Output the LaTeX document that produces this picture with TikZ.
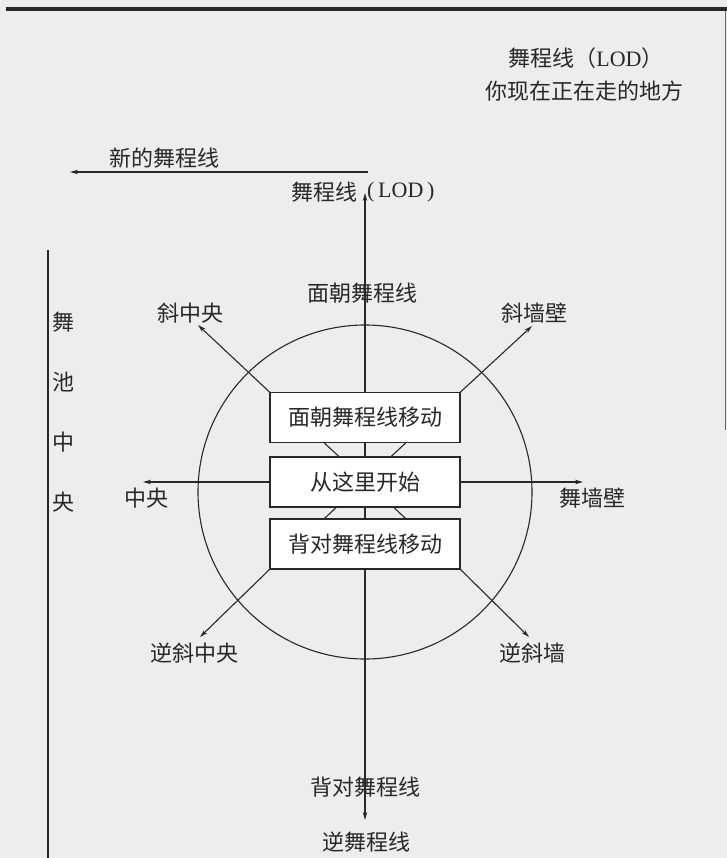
\documentclass[tikz,border=0pt]{standalone}
\usepackage{fontspec}
\newfontfamily\cjk{Noto Sans CJK SC}
\newfontfamily\lat{Liberation Serif}
\usetikzlibrary{arrows.meta}
\definecolor{paper}{RGB}{237,237,237}
\definecolor{ink}{RGB}{40,40,40}
\pgfdeclarelayer{paperlayer}
\pgfdeclarelayer{bg}
\pgfsetlayers{paperlayer,bg,main}
\begin{document}
\begin{tikzpicture}[x=1pt,y=-1pt,
  lbl/.style={font=\cjk\fontsize{22}{26}\selectfont, text=ink, inner sep=0pt},
  box/.style={draw=ink, fill=white, line width=1.1pt, minimum width=190pt,
              minimum height=50pt, inner sep=0pt, font=\cjk\fontsize{22}{26}\selectfont, text=ink},
  conn/.style={draw=ink, line width=1.1pt},
  arr/.style={conn, -{Stealth[length=8pt,width=4.5pt]}},
  ring/.style={draw=ink, line width=1.1pt, circle, minimum size=334pt, inner sep=0pt}]
\begin{pgfonlayer}{paperlayer}
  \fill[paper] (0,0) rectangle (727,858);
\end{pgfonlayer}
\useasboundingbox (0,0) rectangle (727,858);
% frame pieces
\fill[ink] (6,7) rectangle (727,11.5);
\coordinate (fr1) at (725,11);
\coordinate (fr2) at (725,430);
\draw[conn, draw=ink!70, line width=0.9pt] (fr1) -- (fr2);
% left wall line
\coordinate (w1) at (48,250);
\coordinate (w2) at (48,858);
\draw[conn] (w1) -- (w2);
% circle
\node[ring] (circ) at (365,492) {};
% boxes
\node[box] (b1) at (365,417.5) {面朝舞程线移动};
\node[box] (b2) at (365,482) {从这里开始};
\node[box] (b3) at (365,544) {背对舞程线移动};
% arrow tips
\coordinate (tN) at (365,193);
\coordinate (tS) at (365,820);
\coordinate (tW) at (143,482);
\coordinate (tE) at (583,482);
\coordinate (tNW) at (198,325);
\coordinate (tNE) at (532,326);
\coordinate (tSW) at (200,637);
\coordinate (tSE) at (529,637);
\coordinate (nl1) at (368,172);
\coordinate (nl2) at (70,172);
\begin{pgfonlayer}{bg}
  \draw[arr] (b2.center) -- (tN);
  \draw[arr] (b2.center) -- (tS);
  \draw[arr] (b2.center) -- (tW);
  \draw[arr] (b2.center) -- (tE);
  \draw[conn] (b1.north west) -- (b3.south east);
  \draw[conn] (b1.north east) -- (b3.south west);
\end{pgfonlayer}
\draw[arr] (b1.north west) -- (tNW);
\draw[arr] (b1.north east) -- (tNE);
\draw[arr] (b3.south west) -- (tSW);
\draw[arr] (b3.south east) -- (tSE);
\draw[arr] (nl1) -- (nl2);
% labels
\node[lbl] (trA) at (586,58) {舞程线（{\lat LOD}）};
\node[lbl] (trB) at (584,91) {你现在正在走的地方};
\node[lbl] (newl) at (164,158) {新的舞程线};
\node[lbl, anchor=east] (lodA) at (358,192) {舞程线};
\node[lbl, anchor=west] (lodB) at (367,192) {\lat (\,LOD\,)};
\node[lbl] (fN) at (362,293) {面朝舞程线};
\node[lbl] (lNW) at (190,313) {斜中央};
\node[lbl] (lNE) at (534,313) {斜墙壁};
\node[lbl] (lW) at (146,498) {中央};
\node[lbl] (lE) at (592,498) {舞墙壁};
\node[lbl] (lSW) at (194,653) {逆斜中央};
\node[lbl] (lSE) at (532,653) {逆斜墙};
\node[lbl] (fS) at (365,787) {背对舞程线};
\node[lbl] (lS) at (366,842) {逆舞程线};
\node[lbl] (v1) at (63,322) {舞};
\node[lbl] (v2) at (63,382) {池};
\node[lbl] (v3) at (63,442) {中};
\node[lbl] (v4) at (63,502) {央};
\end{tikzpicture}
\end{document}
